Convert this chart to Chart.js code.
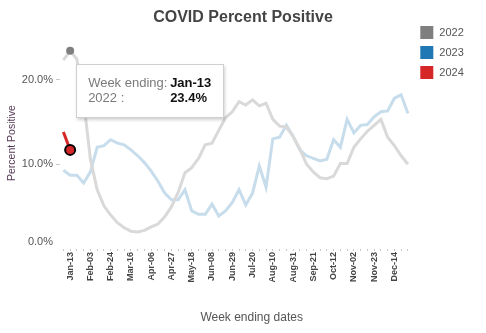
<!DOCTYPE html>
<html><head><meta charset="utf-8">
<script src="https://cdn.jsdelivr.net/npm/chart.js@4"></script>
<style>
html,body{margin:0;padding:0;background:#fff;}
#wrap{position:relative;width:486px;height:333px;}
#tip{position:absolute;display:none;background:#fff;border:1px solid #cfcfcf;box-shadow:1px 2px 3px rgba(0,0,0,0.18);padding:10px 12px 11px 11px;font:13px 'Liberation Sans',Arial,sans-serif;line-height:15.6px;white-space:nowrap;pointer-events:none;}
#tip .k{display:inline-block;width:82px;color:#7a7a7a;}
#tip .v{font-weight:bold;color:#111;}
</style></head><body>
<div id="wrap"><canvas id="c" width="486" height="333"></canvas><div id="tip"></div></div>
<script>
const weekLabels = ['Jan-06','Jan-13','Jan-20','Jan-27','Feb-03','Feb-10','Feb-17','Feb-24','Mar-02','Mar-09','Mar-16','Mar-23','Mar-30','Apr-06','Apr-13','Apr-20','Apr-27','May-04','May-11','May-18','May-25','Jun-01','Jun-08','Jun-15','Jun-22','Jun-29','Jul-06','Jul-13','Jul-20','Jul-27','Aug-03','Aug-10','Aug-17','Aug-24','Aug-31','Sep-07','Sep-14','Sep-21','Sep-28','Oct-05','Oct-12','Oct-19','Oct-26','Nov-02','Nov-09','Nov-16','Nov-23','Nov-30','Dec-07','Dec-14','Dec-21','Dec-28'];
const tickLabels = ['Jan-13','Feb-03','Feb-24','Mar-16','Apr-06','Apr-27','May-18','Jun-08','Jun-29','Jul-20','Aug-10','Aug-31','Sep-21','Oct-12','Nov-02','Nov-23','Dec-14'];
const seriesNames = ['2022','2023','2024'];
const legendColors = ['#7f7f7f','#1f77b4','#d62728'];
const lineColors = ['#d9d9d9','#c7ddec','#d62728'];
const values2022 = [22.3,23.4,22.4,17.5,10.6,7.0,5.1,4.0,3.1,2.5,2.1,2.0,2.2,2.6,2.95,3.8,5.0,6.7,9.0,9.6,10.7,12.3,12.5,14.0,15.5,16.2,17.4,17.0,17.6,16.9,17.2,15.3,14.5,14.4,13.3,11.8,10.0,9.1,8.4,8.3,8.6,10.1,10.1,12.0,13.0,13.9,14.6,15.3,13.2,12.2,11.0,10.0];
const values2023 = [9.3,8.7,8.7,7.8,9.1,12.0,12.2,12.9,12.5,12.3,11.7,11.0,10.2,9.2,8.0,6.6,5.8,5.8,7.0,4.5,4.1,4.1,5.3,3.9,4.5,5.5,7.0,5.2,6.6,9.8,7.3,13.0,13.2,14.6,13.3,11.7,11.0,10.7,10.4,10.6,12.9,12.0,15.3,13.7,14.6,14.7,15.6,16.2,16.3,17.8,18.2,16.0];
const values2024 = [13.8,11.7];
const yTicks = [0,10,20];
const yMax = 25;
const chartTitle = 'COVID Percent Positive';
const xTitle = 'Week ending dates';
const yTitle = 'Percent Positive';
const hoverSeries = 0, hoverIndex = 1;

const FONT = "'Liberation Sans', Arial, sans-serif";
Chart.defaults.font.family = FONT;
const fmtPct = v => v.toFixed(1) + '%';

function externalTip({chart, tooltip}) {
  const el = document.getElementById('tip');
  if (!tooltip.dataPoints || !tooltip.dataPoints.length) { el.style.display = 'none'; return; }
  const dp = tooltip.dataPoints[0];
  el.innerHTML = '<div><span class="k">Week ending:</span><span class="v">' + dp.label + '</span></div>' +
                 '<div><span class="k">' + dp.dataset.label + ' :</span><span class="v">' + fmtPct(dp.raw) + '</span></div>';
  el.style.display = 'block';
  el.style.left = (tooltip.caretX + 6) + 'px';
  el.style.top = (tooltip.caretY + 13) + 'px';
}

const extras = {
  id: 'extras',
  afterDraw(chart) {
    const ctx = chart.ctx, ys = chart.scales.y, xs = chart.scales.x;
    ctx.save();
    ctx.font = '11px ' + FONT;
    ctx.fillStyle = '#555';
    ctx.textAlign = 'right';
    ctx.textBaseline = 'middle';
    ctx.fillText(fmtPct(yTicks[0]), ys.right - 7, ys.getPixelForValue(yTicks[0]) - 7.5);
    ctx.font = '12px ' + FONT;
    ctx.textAlign = 'center';
    ctx.fillText(xTitle, (xs.left + xs.right) / 2 + 16, 318);
    ctx.font = '11px ' + FONT;
    ctx.textAlign = 'left';
    const lx = xs.right + 9, ly = 26;
    seriesNames.forEach((n, i) => {
      ctx.fillStyle = legendColors[i];
      ctx.fillRect(lx, ly + i * 20, 13, 13);
      ctx.fillStyle = '#555';
      ctx.fillText(n, lx + 19, ly + i * 20 + 7);
    });
    ctx.restore();
  }
};

const chart = new Chart(document.getElementById('c'), {
  type: 'line',
  data: {
    labels: weekLabels,
    datasets: [
      { label: seriesNames[0], data: values2022, borderColor: lineColors[0], borderWidth: 3, tension: 0,
        pointRadius: c => c.dataIndex === hoverIndex ? 4 : 0, pointBackgroundColor: legendColors[0], pointBorderWidth: 0, order: 1 },
      { label: seriesNames[1], data: values2023, borderColor: lineColors[1], borderWidth: 3, tension: 0,
        pointRadius: 0, order: 2 },
      { label: seriesNames[2], data: values2024, borderColor: lineColors[2], borderWidth: 3, tension: 0,
        pointRadius: c => c.dataIndex === values2024.length - 1 ? 5 : 0, pointBackgroundColor: legendColors[2],
        pointBorderColor: '#000', pointBorderWidth: 2, order: 0 }
    ]
  },
  options: {
    responsive: false,
    animation: false,
    devicePixelRatio: 1,
    events: [],
    layout: { padding: 0 },
    plugins: {
      legend: { display: false },
      title: { display: true, text: chartTitle, color: '#444', font: { size: 16, weight: 'bold' }, padding: { top: 8, bottom: 10 } },
      tooltip: { enabled: false, external: externalTip }
    },
    scales: {
      x: {
        offset: true,
        grid: { display: true, drawOnChartArea: false, drawTicks: true, tickLength: 2, color: '#c8c8c8', offset: false },
        border: { display: false },
        ticks: { autoSkip: false, minRotation: 90, maxRotation: 90, padding: 1, color: '#444',
          font: { family: FONT, size: 9, weight: 'bold' },
          callback: (v, i) => tickLabels.includes(weekLabels[i]) ? weekLabels[i] : '' },
        afterFit: s => { s.height = 84; }
      },
      y: {
        min: yTicks[0], max: yMax,
        afterBuildTicks: s => { s.ticks = yTicks.map(v => ({ value: v })); },
        grid: { drawOnChartArea: false, drawTicks: true, tickLength: 4, color: c => (c.tick && c.tick.value === 0) ? 'rgba(0,0,0,0)' : '#c8c8c8' },
        border: { display: false },
        ticks: { color: '#555', font: { size: 11 }, padding: 3, callback: v => v === 0 ? '' : fmtPct(v) },
        title: { display: true, text: yTitle, color: '#553a55', font: { size: 10.5 }, padding: { top: 6, bottom: 0 } },
        afterFit: s => { s.width = 60; }
      },
      yRight: {
        type: 'linear', position: 'right', display: true,
        ticks: { display: false }, grid: { display: false }, border: { display: false },
        afterFit: s => { s.width = 74.7; }
      }
    }
  },
  plugins: [extras]
});
chart.tooltip.setActiveElements([{ datasetIndex: hoverSeries, index: hoverIndex }], { x: 0, y: 0 });
chart.draw();
</script>
</body></html>
